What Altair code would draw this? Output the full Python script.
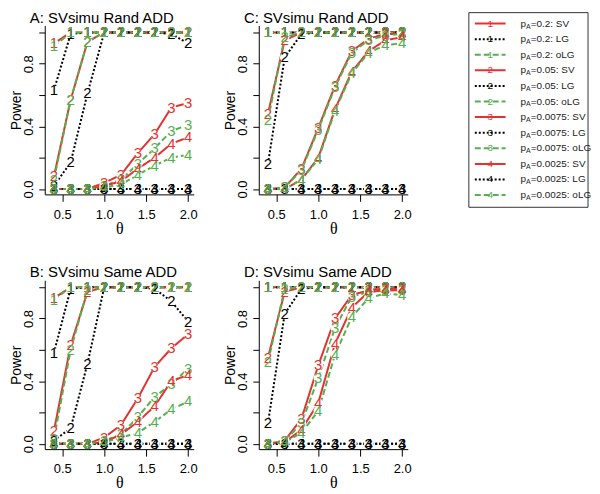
import altair as alt
import pandas as pd

# ---------------- data ----------------
theta = [0.4, 0.6, 0.8, 1.0, 1.2, 1.4, 1.6, 1.8, 2.0]
pa_values = ["0.2", "0.05", "0.0075", "0.0025"]
methods = ["SV", "LG", "oLG"]
panel_order = ["A", "C", "B", "D"]
panel_titles = {
    "A": "A:  SVsimu Rand ADD",
    "B": "B:  SVsimu Same ADD",
    "C": "C:  SVsimu Rand ADD",
    "D": "D:  SVsimu Same ADD",
}

# Panel A: SVsimu Rand ADD
a_sv1 = [0.93, 1.00, 1.00, 1.00, 1.00, 1.00, 1.00, 1.00, 1.00]
a_lg1 = [0.63, 0.99, 1.00, 1.00, 1.00, 1.00, 1.00, 1.00, 1.00]
a_olg1 = [0.91, 1.00, 1.00, 1.00, 1.00, 1.00, 1.00, 1.00, 1.00]
a_sv2 = [0.08, 0.57, 0.94, 1.00, 1.00, 1.00, 1.00, 1.00, 1.00]
a_lg2 = [0.02, 0.17, 0.61, 1.00, 1.00, 1.00, 1.00, 0.99, 0.93]
a_olg2 = [0.06, 0.57, 0.94, 1.00, 1.00, 1.00, 1.00, 1.00, 1.00]
a_sv3 = [0.00, 0.00, 0.00, 0.04, 0.09, 0.23, 0.35, 0.52, 0.55]
a_lg3 = [0.00, 0.00, 0.00, 0.00, 0.00, 0.00, 0.00, 0.00, 0.00]
a_olg3 = [0.00, 0.00, 0.00, 0.02, 0.06, 0.16, 0.26, 0.37, 0.41]
a_sv4 = [0.00, 0.00, 0.00, 0.02, 0.05, 0.13, 0.20, 0.29, 0.33]
a_lg4 = [0.00, 0.00, 0.00, 0.00, 0.00, 0.00, 0.00, 0.00, 0.00]
a_olg4 = [0.00, 0.00, 0.00, 0.01, 0.03, 0.09, 0.15, 0.20, 0.22]

# Panel B: SVsimu Same ADD
b_sv1 = [0.93, 1.00, 1.00, 1.00, 1.00, 1.00, 1.00, 1.00, 1.00]
b_lg1 = [0.58, 0.99, 1.00, 1.00, 1.00, 1.00, 1.00, 1.00, 1.00]
b_olg1 = [0.92, 1.00, 1.00, 1.00, 1.00, 1.00, 1.00, 1.00, 1.00]
b_sv2 = [0.08, 0.63, 0.97, 1.00, 1.00, 1.00, 1.00, 1.00, 1.00]
b_lg2 = [0.02, 0.10, 0.51, 1.00, 1.00, 1.00, 0.99, 0.91, 0.78]
b_olg2 = [0.03, 0.60, 0.98, 1.00, 1.00, 1.00, 1.00, 1.00, 1.00]
b_sv3 = [0.00, 0.00, 0.00, 0.04, 0.12, 0.29, 0.49, 0.61, 0.70]
b_lg3 = [0.00, 0.00, 0.00, 0.00, 0.00, 0.00, 0.00, 0.00, 0.00]
b_olg3 = [0.00, 0.00, 0.00, 0.02, 0.06, 0.17, 0.30, 0.38, 0.48]
b_sv4 = [0.00, 0.00, 0.00, 0.01, 0.06, 0.14, 0.24, 0.40, 0.44]
b_lg4 = [0.00, 0.00, 0.00, 0.00, 0.00, 0.00, 0.00, 0.00, 0.00]
b_olg4 = [0.00, 0.00, 0.00, 0.01, 0.04, 0.07, 0.14, 0.22, 0.27]

# Panel C: SVsimu Rand ADD
c_sv1 = [1.00, 1.00, 1.00, 1.00, 1.00, 1.00, 1.00, 1.00, 1.00]
c_lg1 = [1.00, 1.00, 1.00, 1.00, 1.00, 1.00, 1.00, 1.00, 1.00]
c_olg1 = [1.00, 1.00, 1.00, 1.00, 1.00, 1.00, 1.00, 1.00, 1.00]
c_sv2 = [0.48, 0.95, 1.00, 1.00, 1.00, 1.00, 1.00, 1.00, 1.00]
c_lg2 = [0.16, 0.84, 0.99, 1.00, 1.00, 1.00, 1.00, 1.00, 1.00]
c_olg2 = [0.44, 0.97, 1.00, 1.00, 1.00, 1.00, 1.00, 1.00, 1.00]
c_sv3 = [0.00, 0.01, 0.13, 0.39, 0.66, 0.88, 0.96, 0.99, 0.99]
c_lg3 = [0.00, 0.00, 0.00, 0.00, 0.00, 0.00, 0.00, 0.00, 0.00]
c_olg3 = [0.00, 0.01, 0.12, 0.38, 0.65, 0.87, 0.95, 0.98, 0.99]
c_sv4 = [0.00, 0.00, 0.06, 0.20, 0.51, 0.75, 0.88, 0.95, 0.97]
c_lg4 = [0.00, 0.00, 0.00, 0.00, 0.00, 0.00, 0.00, 0.00, 0.00]
c_olg4 = [0.00, 0.00, 0.06, 0.19, 0.50, 0.74, 0.87, 0.92, 0.93]

# Panel D: SVsimu Same ADD
d_sv1 = [1.00, 1.00, 1.00, 1.00, 1.00, 1.00, 1.00, 1.00, 1.00]
d_lg1 = [1.00, 1.00, 1.00, 1.00, 1.00, 1.00, 1.00, 1.00, 1.00]
d_olg1 = [1.00, 1.00, 1.00, 1.00, 1.00, 1.00, 1.00, 1.00, 1.00]
d_sv2 = [0.55, 0.97, 1.00, 1.00, 1.00, 1.00, 1.00, 1.00, 1.00]
d_lg2 = [0.13, 0.83, 0.99, 1.00, 1.00, 1.00, 1.00, 1.00, 1.00]
d_olg2 = [0.52, 0.99, 1.00, 1.00, 1.00, 1.00, 1.00, 1.00, 1.00]
d_sv3 = [0.00, 0.02, 0.16, 0.50, 0.80, 0.95, 0.98, 0.99, 0.99]
d_lg3 = [0.00, 0.00, 0.00, 0.00, 0.00, 0.00, 0.00, 0.00, 0.00]
d_olg3 = [0.00, 0.02, 0.13, 0.42, 0.74, 0.94, 0.97, 0.98, 0.98]
d_sv4 = [0.00, 0.01, 0.09, 0.26, 0.64, 0.87, 0.97, 0.98, 0.98]
d_lg4 = [0.00, 0.00, 0.00, 0.00, 0.00, 0.00, 0.00, 0.00, 0.00]
d_olg4 = [0.00, 0.01, 0.07, 0.21, 0.57, 0.81, 0.93, 0.96, 0.95]

panels = {
    "A": {"SV": [a_sv1, a_sv2, a_sv3, a_sv4], "LG": [a_lg1, a_lg2, a_lg3, a_lg4], "oLG": [a_olg1, a_olg2, a_olg3, a_olg4]},
    "B": {"SV": [b_sv1, b_sv2, b_sv3, b_sv4], "LG": [b_lg1, b_lg2, b_lg3, b_lg4], "oLG": [b_olg1, b_olg2, b_olg3, b_olg4]},
    "C": {"SV": [c_sv1, c_sv2, c_sv3, c_sv4], "LG": [c_lg1, c_lg2, c_lg3, c_lg4], "oLG": [c_olg1, c_olg2, c_olg3, c_olg4]},
    "D": {"SV": [d_sv1, d_sv2, d_sv3, d_sv4], "LG": [d_lg1, d_lg2, d_lg3, d_lg4], "oLG": [d_olg1, d_olg2, d_olg3, d_olg4]},
}

# ---------------- style ----------------
RED = "#E3322F"
GREEN = "#55B04F"
FONT = "Liberation Sans"
SERIF = "Liberation Serif"
PW, PH = 150, 170

rows = []
for p in panel_order:
    for k in range(4):
        for mi, m in enumerate(methods):
            for xv, yv in zip(theta, panels[p][m][k]):
                rows.append(dict(panel=p, method=m, series=f"{k+1}-{m}", x=xv, y=yv,
                                 lab=str(k + 1), ordr=k * 3 + mi))
df = pd.DataFrame(rows)

color = alt.Color("method:N", scale=alt.Scale(domain=methods, range=[RED, "black", GREEN]), legend=None)
dash = alt.StrokeDash("method:N", scale=alt.Scale(domain=methods, range=[[1, 0], [2, 2], [6, 3]]), legend=None)

y_label_expr = ("abs(datum.value-0.2)<0.01 || abs(datum.value-0.6)<0.01 || "
                "abs(datum.value-1)<0.01 ? '' : datum.label")


def make_panel(p):
    d = df[df.panel == p]
    x = alt.X("x:Q", scale=alt.Scale(domain=[0.291, 2.067], nice=False, zero=False),
              axis=alt.Axis(values=[0.5, 1.0, 1.5, 2.0], format=".1f", title="θ",
                            tickSize=7, labelPadding=7, labelFlush=False, labelOverlap=False,
                            titleFont=SERIF, titleFontSize=16, titleY=34,
                            titleBaseline="middle"))
    y = alt.Y("y:Q", scale=alt.Scale(domain=[-0.034, 1.044], nice=False, zero=False),
              axis=alt.Axis(values=[0, 0.2, 0.4, 0.6, 0.8, 1.0], format=".1f",
                            labelExpr=y_label_expr, labelAngle=270, labelAlign="center",
                            labelBaseline="bottom", tickSize=6, labelPadding=3,
                            labelFlush=False, labelOverlap=False, title="Power",
                            titleAngle=270, titleX=-28, titleY=PH / 2, titleAlign="center",
                            titleBaseline="middle", titleFontSize=14))
    base = alt.Chart(d)
    lines = base.mark_line(strokeWidth=2).encode(x=x, y=y, color=color, strokeDash=dash,
                                                 detail="series:N")
    holes = base.mark_circle(color="white", opacity=1, size=90).encode(x=x, y=y)
    labels = base.mark_text(fontSize=15, font=FONT).encode(
        x=x, y=y, text="lab:N", color=color, order="ordr:Q")
    return alt.layer(lines, holes, labels).properties(
        width=PW, height=PH,
        title=alt.TitleParams(panel_titles[p], anchor="start", frame="group", dx=-15,
                              fontSize=15, font=FONT, fontWeight="normal", color="black",
                              baseline="alphabetic", offset=-12))


# ---------------- legend (custom) ----------------
leg_rows = []
for k in range(4):
    for mi, m in enumerate(methods):
        i = k * 3 + mi
        leg_rows.append(dict(i=i, method=m, lab=str(k + 1), rest=f"={pa_values[k]}: {m}"))
leg = pd.DataFrame(leg_rows)
LEG_Y0, LEG_STEP = -2, 15.7
leg["yy"] = LEG_Y0 + LEG_STEP * leg["i"]

ly = alt.Y("yy:Q", scale=alt.Scale(domain=[0, PH], reverse=True, nice=False, zero=False), axis=None)
lbase = alt.Chart(leg)
box = alt.Chart(pd.DataFrame({"a": [0]})).mark_rect(fill="white", stroke="#333", strokeWidth=1).encode(
    x=alt.value(-4), x2=alt.value(116), y=alt.value(-13), y2=alt.value(183))
lrules = lbase.mark_rule(strokeWidth=2).encode(
    x=alt.value(2), x2=alt.value(33), y=ly, color=color, strokeDash=dash)
ldigits = lbase.mark_text(fontSize=10, font=FONT).encode(
    x=alt.value(17.5), y=ly, text="lab:N", color=color)
lp = lbase.mark_text(fontSize=10, font=FONT, align="left", color="#222").encode(
    x=alt.value(48), y=ly, text=alt.value("p"))
lsub = lbase.mark_text(fontSize=7, font=FONT, align="left", dy=3, color="#222").encode(
    x=alt.value(53.6), y=ly, text=alt.value("A"))
lrest = lbase.mark_text(fontSize=10, font=FONT, align="left", color="#222").encode(
    x=alt.value(58.3), y=ly, text="rest:N")
legend_chart = alt.layer(box, lrules, ldigits, lp, lsub, lrest).properties(width=116, height=PH)

chart = alt.concat(
    make_panel("A"), make_panel("C"), legend_chart,
    make_panel("B"), make_panel("D"),
    columns=3, spacing={"row": 86.5, "column": 65.5}, bounds="flush",
).properties(
    padding={"left": 2, "top": 0, "right": 0, "bottom": 0}
).configure_view(stroke=None).configure_axis(
    domainColor="black", tickColor="black", labelColor="black", titleColor="black",
    grid=False, labelFont=FONT, titleFont=FONT, labelFontSize=13, titleFontWeight="normal",
    domainWidth=1, tickWidth=1,
)

chart.save("out.html", embed_options={"renderer": "svg", "actions": False})
